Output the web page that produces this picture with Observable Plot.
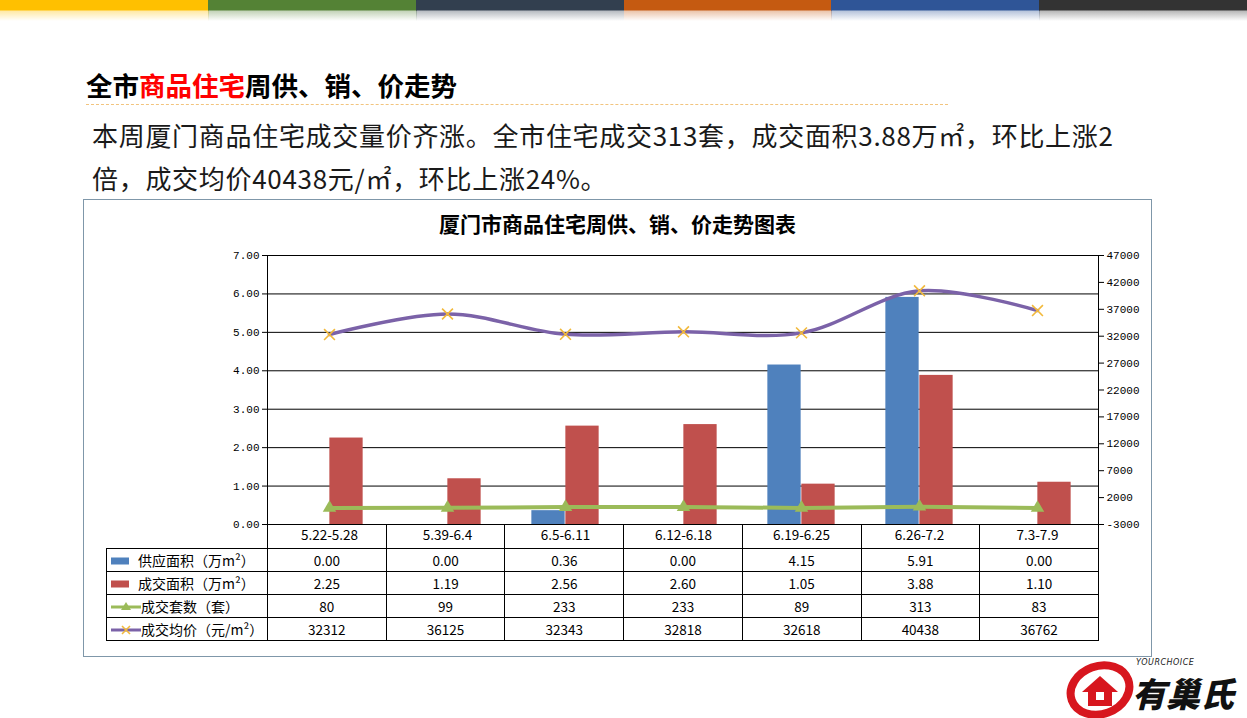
<!DOCTYPE html>
<html><head><meta charset="utf-8">
<script src="https://cdn.jsdelivr.net/npm/d3@7"></script>
<script src="https://cdn.jsdelivr.net/npm/@observablehq/plot@0.6"></script>
<style>
html,body{margin:0;padding:0;background:#fff;}
body{width:1247px;height:718px;position:relative;overflow:hidden;font-family:"Noto Sans CJK SC","Noto Sans",sans-serif;}
.stripe{position:absolute;top:0;height:22px;}
#heading{position:absolute;left:86px;top:70px;font-size:26.5px;line-height:30px;font-weight:bold;color:#000;white-space:nowrap;}
#heading .red{color:#FF0000;}
#dash{position:absolute;left:86px;top:104px;width:862px;border-top:1px dashed #F2C47E;}
#para{position:absolute;left:92px;top:113px;font-size:26px;line-height:43px;color:#1a1a1a;white-space:nowrap;letter-spacing:0.7px;}
#frame{position:absolute;left:83px;top:199px;width:1067px;height:456px;border:1px solid #7F97A9;}
#ctitle{position:absolute;left:83px;top:208px;width:1069px;text-align:center;font-size:21px;line-height:30px;font-weight:bold;color:#000;}
#plot{position:absolute;left:83px;top:199px;}
#tbl{position:absolute;left:106px;top:524px;border-collapse:collapse;table-layout:fixed;z-index:2;font-size:13.5px;color:#000;}
#tbl tr{height:23px;}
#tbl tr.hdr{height:24px;}
#tbl td{padding:0;text-align:center;border:1px solid #000;line-height:18px;white-space:nowrap;overflow:hidden;}
#tbl tr.hdr td{border-top:none;}
#tbl tr.hdr td.blank{border-left:none;}
#tbl td.leg{text-align:left;padding-left:4px;font-size:14px;}
.sw{display:inline-block;vertical-align:middle;margin-right:9px;}
#logo{position:absolute;left:1064px;top:656px;width:183px;height:62px;}
</style></head>
<body>
<div id="stripes"></div>
<div id="heading">全市<span class="red">商品住宅</span>周供、销、价走势</div>
<div id="dash"></div>
<div id="para">本周厦门商品住宅成交量价齐涨。全市住宅成交313套，成交面积3.88万㎡，环比上涨2<br>倍，成交均价40438元/㎡，环比上涨24%。</div>
<div id="frame"></div>
<div id="plot"></div>
<div id="ctitle">厦门市商品住宅周供、销、价走势图表</div>
<table id="tbl"></table>
<div id="logo">
  <svg width="183" height="62" viewBox="0 0 183 62" style="position:absolute;left:0;top:0">
    <ellipse cx="36" cy="34" rx="30" ry="24" fill="none" stroke="#D7161E" stroke-width="8" transform="rotate(-20 36 34)"/>
    <path d="M18 36 L36 20 L54 36 L48 36 L48 50 L24 50 L24 36 Z" fill="#D7161E"/>
    <rect x="32" y="36" width="8" height="8" fill="#fff"/>
  </svg>
  <div style="position:absolute;left:72px;top:2px;font-size:8px;line-height:10px;font-style:italic;font-family:'DejaVu Sans';color:#222;letter-spacing:0.5px;">YOURCHOICE</div>
  <div style="position:absolute;left:68px;top:17px;font-size:34px;line-height:40px;font-weight:900;font-style:italic;color:#111;">有巢氏</div>
</div>
<script>
// ---------- data ----------
const categories = ["5.22-5.28","5.39-6.4","6.5-6.11","6.12-6.18","6.19-6.25","6.26-7.2","7.3-7.9"];
const supplyArea = [0.00, 0.00, 0.36, 0.00, 4.15, 5.91, 0.00];
const salesArea  = [2.25, 1.19, 2.56, 2.60, 1.05, 3.88, 1.10];
const salesUnits = [80, 99, 233, 233, 89, 313, 83];
const avgPrice   = [32312, 36125, 32343, 32818, 32618, 40438, 36762];
const leftTicks  = [0, 1, 2, 3, 4, 5, 6, 7];
const rightTicks = [-3000, 2000, 7000, 12000, 17000, 22000, 27000, 32000, 37000, 42000, 47000];
const seriesNames = ["供应面积（万m²）","成交面积（万m²）","成交套数（套）","成交均价（元/m²）"];
const stripeColors = ["#FFC000","#548235","#323F4F","#C55A11","#2F5597","#333333"];

// ---------- stripes ----------
const st = document.getElementById("stripes");
const sw = 1247 / stripeColors.length;
stripeColors.forEach((c, i) => {
  const d = document.createElement("div");
  d.className = "stripe";
  d.style.left = (i * sw) + "px";
  d.style.width = (sw + 1) + "px";
  const rgb = d3.rgb(c);
  d.style.background = `linear-gradient(to bottom, ${c} 0px, ${c} 10px, rgba(${rgb.r},${rgb.g},${rgb.b},0.35) 11px, rgba(${rgb.r},${rgb.g},${rgb.b},0) 21px)`;
  st.appendChild(d);
});

// ---------- chart ----------
const data = categories.map((cat, i) => ({cat, supply: supplyArea[i], sales: salesArea[i], units: salesUnits[i], price: avgPrice[i]}));
const rMin = -3000, rMax = 47000, lMax = 7;
const toL = v => (v - rMin) / (rMax - rMin) * lMax;
const fromL = v => v / lMax * (rMax - rMin) + rMin;

const W = 1069, ML = 184, MR = 54, MT = 56, MB = 24, H = 349;
const bw = (W - ML - MR) / categories.length;
const barW = 34;

const chart = Plot.plot({
  width: W, height: H,
  marginLeft: ML, marginRight: MR, marginTop: MT, marginBottom: MB,
  style: {background: "transparent", overflow: "visible"},
  x: {type: "band", domain: categories, padding: 0},
  y: {domain: [0, lMax]},
  marks: [
    Plot.ruleY(leftTicks, {stroke: "#000", strokeWidth: 1}),
    Plot.barY(data, {x: "cat", y: "supply", fill: "#4F81BD", insetLeft: bw / 2 - barW, insetRight: bw / 2}),
    Plot.barY(data, {x: "cat", y: "sales", fill: "#C0504D", insetLeft: bw / 2, insetRight: bw / 2 - barW}),
    Plot.line(data, {x: "cat", y: d => toL(d.units), stroke: "#9BBB59", strokeWidth: 4}),
    Plot.dot(data, {x: "cat", y: d => toL(d.units), symbol: "triangle", fill: "#9BBB59", r: 5}),
    Plot.line(data, {x: "cat", y: d => toL(d.price), stroke: "#7B62A8", strokeWidth: 3.5, curve: "catmull-rom"}),
    Plot.dot(data, {x: "cat", y: d => toL(d.price), symbol: "times", stroke: "#F2B93B", strokeWidth: 1.6, r: 5}),
    Plot.frame({stroke: "#000"}),
    Plot.axisY(leftTicks, {anchor: "left", tickFormat: d3.format(".2f"), tickSize: 5, tickPadding: 3, color: "#000", fontFamily: "Liberation Mono, DejaVu Sans Mono, monospace", fontSize: 11}),
    Plot.axisY(rightTicks.map(toL), {anchor: "right", tickFormat: v => String(Math.round(fromL(v))), tickSize: 5, tickPadding: 3, color: "#000", fontFamily: "Liberation Mono, DejaVu Sans Mono, monospace", fontSize: 11}),
    Plot.axisX({anchor: "bottom", tickSize: 0, tickPadding: 6, color: "#000", fontSize: 13.5, fontFamily: "Noto Sans CJK SC, Noto Sans, sans-serif", label: null})
  ]
});
document.getElementById("plot").appendChild(chart);

// ---------- data table ----------
const tbl = document.getElementById("tbl");
const colg = document.createElement("colgroup");
[161, ...categories.map(() => bw)].forEach(w => { const c = document.createElement("col"); c.style.width = w + "px"; colg.appendChild(c); });
tbl.appendChild(colg);
const hdr = tbl.insertRow(); hdr.className = "hdr";
const b = hdr.insertCell(); b.className = "blank";
categories.forEach(() => hdr.insertCell());

function swatch(kind) {
  if (kind === 0) return '<svg class="sw" width="18" height="8"><rect width="18" height="7" y="0.5" fill="#4F81BD"/></svg>';
  if (kind === 1) return '<svg class="sw" width="18" height="8"><rect width="18" height="7" y="0.5" fill="#C0504D"/></svg>';
  if (kind === 2) return '<svg class="sw" width="30" height="12" style="margin-right:0"><line x1="0" x2="30" y1="6" y2="6" stroke="#9BBB59" stroke-width="3"/><path d="M15 1 L20 9 L10 9 Z" fill="#9BBB59"/></svg>';
  return '<svg class="sw" width="30" height="12" style="margin-right:0"><line x1="0" x2="30" y1="6" y2="6" stroke="#7B62A8" stroke-width="3"/><path d="M11 2 L19 10 M19 2 L11 10" stroke="#F2B93B" stroke-width="1.6"/></svg>';
}
const rows = [
  supplyArea.map(v => v.toFixed(2)),
  salesArea.map(v => v.toFixed(2)),
  salesUnits.map(String),
  avgPrice.map(String)
];
rows.forEach((vals, k) => {
  const r = tbl.insertRow();
  const l = r.insertCell(); l.className = "leg";
  l.innerHTML = swatch(k) + '<span style="vertical-align:middle">' + seriesNames[k] + '</span>';
  vals.forEach(v => { const c = r.insertCell(); c.textContent = v; });
});
</script>
</body></html>
